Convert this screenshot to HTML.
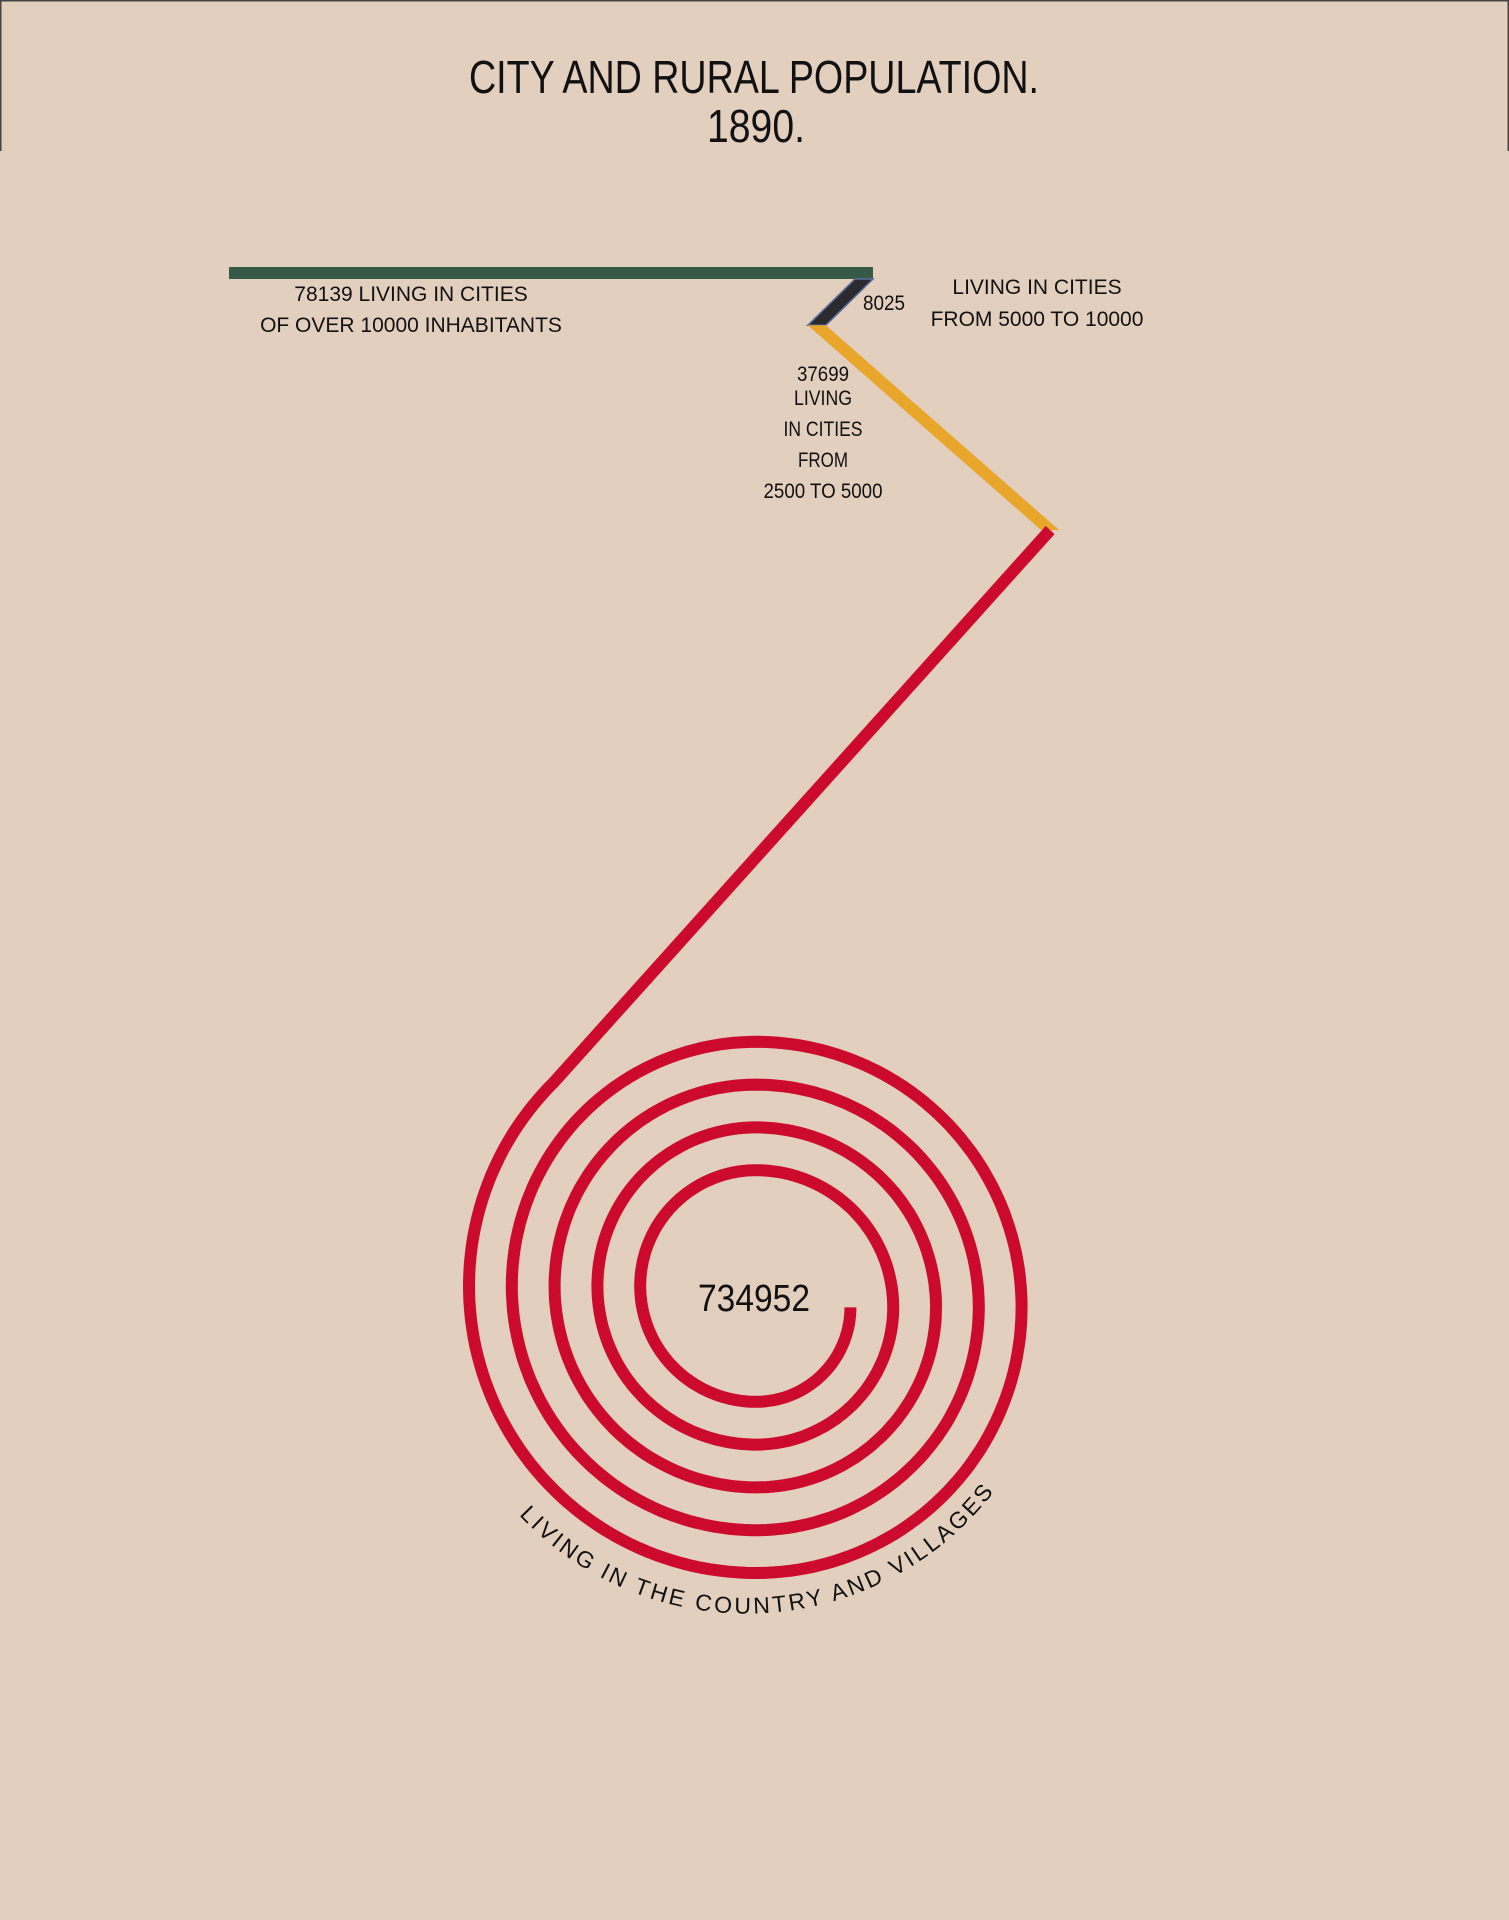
<!DOCTYPE html>
<html><head><meta charset="utf-8">
<style>
html,body{margin:0;padding:0;background:#e2cfbe;}
svg{display:block;}
text{font-family:"Liberation Sans",sans-serif;fill:#111;}
</style></head>
<body>
<svg id="chart" width="1509" height="1920" viewBox="0 0 1509 1920" xmlns="http://www.w3.org/2000/svg">
<rect x="0" y="0" width="1509" height="1920" fill="#e2cfbe"/>
<g stroke="#444" stroke-width="1.5" fill="none">
<line x1="0" y1="0.75" x2="1509" y2="0.75"/>
<line x1="0.75" y1="0" x2="0.75" y2="151"/>
<line x1="1508.25" y1="0" x2="1508.25" y2="151"/>
</g>
<text x="754" y="93" text-anchor="middle" font-size="46" textLength="570" lengthAdjust="spacingAndGlyphs">CITY AND RURAL POPULATION.</text>
<text x="756" y="142" text-anchor="middle" font-size="46" textLength="98" lengthAdjust="spacingAndGlyphs">1890.</text>
<g id="marks"></g>
<g id="labels">
<text x="411" y="301" text-anchor="middle" font-size="21">78139 LIVING IN CITIES</text>
<text x="411" y="332" text-anchor="middle" font-size="21">OF OVER 10000 INHABITANTS</text>
<text x="863" y="310" font-size="21" textLength="42" lengthAdjust="spacingAndGlyphs">8025</text>
<text x="1037" y="294" text-anchor="middle" font-size="21">LIVING IN CITIES</text>
<text x="1037" y="326" text-anchor="middle" font-size="21">FROM 5000 TO 10000</text>
<text x="823" y="381" text-anchor="middle" font-size="21" textLength="52" lengthAdjust="spacingAndGlyphs">37699</text>
<text x="823" y="405" text-anchor="middle" font-size="21" textLength="58" lengthAdjust="spacingAndGlyphs">LIVING</text>
<text x="823" y="436" text-anchor="middle" font-size="21" textLength="79" lengthAdjust="spacingAndGlyphs">IN CITIES</text>
<text x="823" y="467" text-anchor="middle" font-size="21" textLength="50" lengthAdjust="spacingAndGlyphs">FROM</text>
<text x="823" y="498" text-anchor="middle" font-size="21" textLength="119" lengthAdjust="spacingAndGlyphs">2500 TO 5000</text>
<text x="754" y="1311" text-anchor="middle" font-size="38" textLength="112" lengthAdjust="spacingAndGlyphs">734952</text>
<path id="arcPath" d="M 519 1515 A 312 312 0 0 0 989 1498" fill="none" stroke="none"/>
<text font-size="23"><textPath href="#arcPath" textLength="540" lengthAdjust="spacing">LIVING IN THE COUNTRY AND VILLAGES</textPath></text>
</g>
</svg>
<script>
const categories = ["Cities over 10000", "Cities 5000-10000", "Cities 2500-5000", "Country and villages"];
const populationValues = [78139, 8025, 37699, 734952];
const seriesColors = ["#375a48", "#2a2a2f", "#e8a62a", "#cc0a2e"];

const NS = "http://www.w3.org/2000/svg";
const marks = document.getElementById("marks");
const k = 644 / 78139;
const len = v => v * k;
const anchorX = 873, anchorY = 267, barH = 12, cutW = 18;

const gL = len(populationValues[0]);
const g = document.createElementNS(NS, "rect");


g.setAttribute("x", anchorX - gL); g.setAttribute("y", anchorY);
g.setAttribute("width", gL); g.setAttribute("height", barH);
g.setAttribute("fill", seriesColors[0]);
marks.appendChild(g);

function para(x0, y0, ux, uy, L, fill, stroke, name) {
  const x1 = x0 + ux * L, y1 = y0 + uy * L;
  const p = document.createElementNS(NS, "polygon");
  
  
  p.setAttribute("points", `${x0},${y0} ${x0+cutW},${y0} ${x1+cutW},${y1} ${x1},${y1}`);
  p.setAttribute("fill", fill);
  if (stroke) { p.setAttribute("stroke", stroke); p.setAttribute("stroke-width", "1.5"); }
  marks.appendChild(p);
  return [x1, y1];
}
const d1 = para(anchorX - cutW, anchorY + barH, -0.714, 0.700, len(populationValues[1]), seriesColors[1], "#5b6f9a", "bar-cities-5000-10000");
const d2 = para(d1[0], d1[1], 0.751, 0.659, len(populationValues[2]), seriesColors[2], null, "bar-cities-2500-5000");

const r0 = 287, step = 21.4;
const CL = [756, 1286], CR = [756, 1286 + step];
const startDeg = 225;
const totalDeg = populationValues[3] * (1665 / 734952);
function spiralPoint(p) {
  const kk = p < 135 ? 0 : 1 + Math.floor((p - 135) / 180);
  const C = kk % 2 === 0 ? CL : CR;
  const r = r0 - step * kk;
  const phi = (startDeg - p) * Math.PI / 180;
  return [C[0] + r * Math.cos(phi), C[1] + r * Math.sin(phi)];
}
const sp = spiralPoint(0);
let dStr = `M ${d2[0] + cutW/2} ${d2[1]} L ${sp[0].toFixed(1)} ${sp[1].toFixed(1)}`;
const steps = 900;
for (let i = 1; i <= steps; i++) {
  const pt = spiralPoint(i / steps * totalDeg);
  dStr += ` L ${pt[0].toFixed(1)} ${pt[1].toFixed(1)}`;
}
const red = document.createElementNS(NS, "path");


red.setAttribute("d", dStr);
red.setAttribute("fill", "none");
red.setAttribute("stroke", seriesColors[3]);
red.setAttribute("stroke-width", "12");
red.setAttribute("stroke-linejoin", "round");
marks.appendChild(red);
</script>
</body></html>
